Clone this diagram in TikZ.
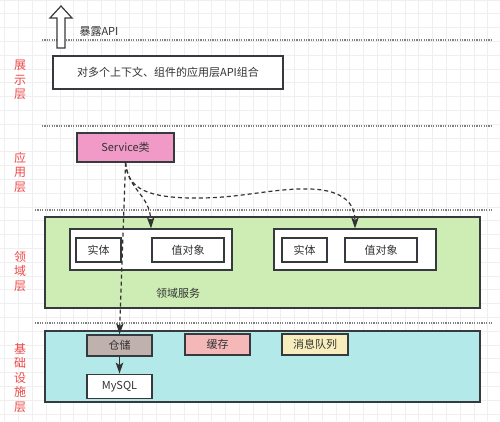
\documentclass[tikz,border=0pt]{standalone}
\usepackage{fontspec}
\setmainfont{Noto Sans CJK SC}
\usetikzlibrary{arrows.meta,positioning}

\definecolor{linegray}{HTML}{36393D}
\definecolor{textgray}{HTML}{333333}
\definecolor{gridgray}{HTML}{EFEFEF}
\definecolor{sidered}{HTML}{F04848}
\definecolor{servicepink}{HTML}{F19AC8}
\definecolor{domaingreen}{HTML}{CDEDB5}
\definecolor{infracyan}{HTML}{B3E9E9}
\definecolor{repobrown}{HTML}{BFB1AC}
\definecolor{cachered}{HTML}{F5B8B8}
\definecolor{mqyellow}{HTML}{F8EEBD}

\tikzset{
  box/.style={draw=linegray,line width=1.2pt,text=textgray,inner sep=0pt,
              font=\fontsize{11pt}{13pt}\selectfont},
  layer box/.style={box,minimum width=435pt},
  group box/.style={box,fill=white,minimum width=162pt,minimum height=41pt},
  item box/.style={box,fill=white,minimum height=24pt},
  store box/.style={box,minimum width=65pt,minimum height=21pt},
  side label/.style={text=sidered,align=center,
                     font=\fontsize{12pt}{14.5pt}\selectfont},
  separator/.style={draw=gray,line width=1.2pt,dash pattern=on 1.2pt off 1.2pt},
  gridline/.style={draw=gridgray,line width=0.8pt},
  link/.style={->,draw=textgray,line width=1.2pt},
  dashed link/.style={link,dash pattern=on 4pt off 3pt}
}

\begin{document}
\begin{tikzpicture}[x=1pt,y=-1pt,>={Stealth[length=11pt,width=7.5pt,inset=2.5pt]}]
  \useasboundingbox[fill=white] (0,0) rectangle (500,421);
  % background grid
  \foreach \gx in {4.8,18.6,...,500} \draw[gridline] (\gx,0) -- (\gx,421);
  \foreach \gy in {0,13.8,...,421} \draw[gridline] (0,\gy) -- (500,\gy);

  % layer separators
  \draw[separator] (42,40) -- (492,40);
  \draw[separator] (42,126) -- (492,126);
  \draw[separator] (35,210) -- (492,210);
  \draw[separator] (35,323) -- (492,323);

  % side labels
  \node[side label] (showlbl) at (20,80) {展\\示\\层};
  \node[side label] (applbl) at (20,172) {应\\用\\层};
  \node[side label] (domlbl) at (20,271) {领\\域\\层};
  \node[side label] (infralbl) at (20,377.5) {基\\础\\设\\施\\层};

  % presentation layer
  \draw[draw=linegray,line width=1.2pt,fill=white]
    (61,6) -- (72,18) -- (65,18) -- (65,48) -- (57,48) -- (57,18) -- (50,18) -- cycle;
  \node[text=textgray,anchor=west,font=\fontsize{11pt}{13pt}\selectfont] (expose) at (76,32) {暴露API};
  \node[box,fill=white,minimum width=230pt,minimum height=33pt] (combo) at (168,72.5)
    {对多个上下文、组件的应用层API组合};

  % application layer
  \node[box,fill=servicepink,minimum width=97pt,minimum height=29pt] (service) at (125.5,147.5) {Service类};

  % domain layer
  \node[layer box,fill=domaingreen,minimum height=91pt] (domain) at (262.5,262.5) {};
  \node[group box] (group1) at (151,249.5) {};
  \node[item box,minimum width=45pt] (entity1) at (98.5,250) {实体};
  \node[item box,minimum width=72pt] (value1) at (188,250) {值对象};
  \node[group box] (group2) at (355,249.5) {};
  \node[item box,minimum width=45pt] (entity2) at (304.5,250) {实体};
  \node[item box,minimum width=72pt] (value2) at (381,250) {值对象};
  \node[text=textgray,font=\fontsize{11pt}{13pt}\selectfont] (domsvc) at (178,293) {领域服务};

  % infrastructure layer
  \node[layer box,fill=infracyan,minimum height=71pt] (infra) at (262.5,366.5) {};
  \node[store box,fill=repobrown] (repo) at (119.5,345.5) {仓储};
  \node[store box,fill=cachered] (cache) at (217.5,344.5) {缓存};
  \node[store box,fill=mqyellow,minimum width=66pt] (mq) at (315,344.5) {消息队列};
  \node[item box,minimum width=65pt,below=17pt of repo] (mysql) {MySQL};

  % connectors
  \draw[dashed link] (service.south) -- (repo.north);
  \draw[dashed link] (service.south) .. controls (128,190) and (150,195) .. (group1.north);
  \draw[dashed link] (service.south) .. controls (128,185) and (140,197) .. (190,198)
    .. controls (240,199) and (270,188) .. (310,189)
    .. controls (345,190) and (355,205) .. (group2.north);
  \draw[link] (repo.south) -- (mysql.north);
\end{tikzpicture}
\end{document}
